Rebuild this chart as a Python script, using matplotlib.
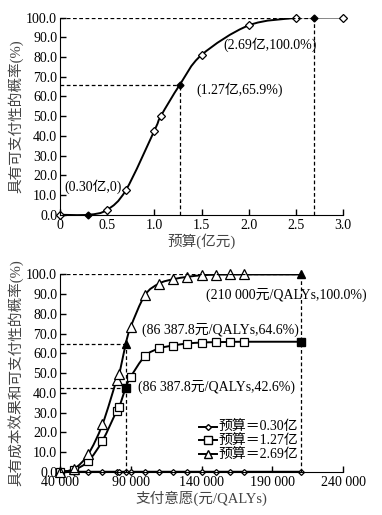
import numpy as np
import matplotlib
matplotlib.use('Agg')
import matplotlib.pyplot as plt
from matplotlib.path import Path
from matplotlib.patches import PathPatch
from matplotlib.lines import Line2D

plt.rcParams['font.family'] = ['Liberation Serif', 'Noto Sans CJK SC', 'DejaVu Sans']
plt.rcParams['font.size'] = 10

# top panel: probability of affordability vs budget (100 million yuan)
budget = [0, 0.5, 0.7, 1.0, 1.07, 1.5, 2.0, 2.5, 3.0]
prob = [0, 2.5, 12.6, 42.6, 50.1, 81.0, 96.0, 99.8, 100.0]
key_budget = [0.30, 1.27, 2.69]
key_prob = [0, 65.9, 100.0]
budget_ticks = [0, 0.5, 1.0, 1.5, 2.0, 2.5, 3.0]
budget_ticklabels = ['0', '0.5', '1.0', '1.5', '2.0', '2.5', '3.0']

# bottom panel: probability vs willingness to pay
wtp = [40000, 50000, 60000, 70000, 80000, 82000, 90000, 100000, 110000,
       120000, 130000, 140000, 150000, 160000, 170000]
p030 = [0, 0, 0, 0, 0, 0, 0, 0, 0, 0, 0, 0, 0, 0, 0]
p127 = [0, 1.0, 5.4, 15.7, 30.7, 32.9, 48.1, 58.6, 62.5, 64.0, 65.0, 65.5, 65.7, 65.8, 65.9]
p269 = [0, 1.5, 9.0, 24.0, 46.5, 49.8, 73.5, 89.5, 95.4, 97.6, 98.8, 99.6, 99.9, 100.0, 100.0]
key_wtp = [86387.8, 210000]
key_p030 = [0, 0]
key_p127 = [42.6, 65.9]
key_p269 = [64.6, 100.0]
wtp_ticks = [40000, 90000, 140000, 190000, 240000]
wtp_ticklabels = ['40 000', '90 000', '140 000', '190 000', '240 000']
yticks = [0, 10, 20, 30, 40, 50, 60, 70, 80, 90, 100]


def smooth_curve(ax, x, y, **kw):
    # Catmull-Rom style bezier through the points (like a smoothed spreadsheet line)
    pts = np.column_stack([x, y]).astype(float)
    n = len(pts)
    verts = [pts[0]]
    codes = [Path.MOVETO]
    for i in range(n - 1):
        p0 = pts[i - 1] if i > 0 else pts[i]
        p1, p2 = pts[i], pts[i + 1]
        p3 = pts[i + 2] if i + 2 < n else pts[i + 1]
        c1 = p1 + (p2 - p0) / 6.0
        c2 = p2 - (p3 - p1) / 6.0
        verts += [c1, c2, p2]
        codes += [Path.CURVE4] * 3
    ax.add_patch(PathPatch(Path(verts, codes), facecolor='none', **kw))


def merged(x, y, kx, ky):
    order = np.argsort(list(x) + list(kx))
    allx = np.array(list(x) + list(kx))[order]
    ally = np.array(list(y) + list(ky))[order]
    return allx, ally


def style_axes(ax):
    ax.spines['top'].set_visible(False)
    ax.spines['right'].set_visible(False)
    ax.tick_params(direction='in', length=4, width=1, pad=2, labelsize=10)
    ax.tick_params(axis='x', pad=3)
    ax.set_ylim(0, 100)
    ax.set_yticks(yticks)
    ax.set_yticklabels(['%.1f' % v for v in yticks])


fig = plt.figure(figsize=(3.82, 5.15), dpi=100)
dash = dict(color='black', lw=0.9, ls=(0, (3, 2)))

# ---- top panel
ax1 = fig.add_axes([0.157, 0.583, 0.741, 0.383])
style_axes(ax1)
ax1.set_xlim(0, 3.0)
ax1.set_xticks(budget_ticks)
ax1.set_xticklabels(budget_ticklabels)
bx, by = merged(budget, prob, key_budget, key_prob)
smooth_curve(ax1, bx, by, edgecolor='black', lw=1.4)
ax1.plot(budget, prob, ls='none', marker='D', ms=4, mfc='white', mec='black', mew=0.9, clip_on=False)
ax1.plot(key_budget, key_prob, ls='none', marker='D', ms=3.5, mfc='black', mec='black', clip_on=False)
ax1.plot([0, key_budget[2]], [key_prob[2]] * 2, **dash)
ax1.plot([key_budget[2]] * 2, [0, key_prob[2]], **dash)
ax1.plot([0, key_budget[1]], [key_prob[1]] * 2, **dash)
ax1.plot([key_budget[1]] * 2, [0, key_prob[1]], **dash)
ax1.text(0.05, 14.2, '(0.30亿,0)', va='center', ha='left')
ax1.text(1.45, 63.2, '(1.27亿,65.9%)', va='center', ha='left')
ax1.text(1.73, 86.0, '(2.69亿,100.0%)', va='center', ha='left')
ax1.set_xlabel('预算(亿元)', color='#444444', fontsize=10.5, labelpad=1)
ax1.set_ylabel('具有可支付性的概率(%)', color='#444444', fontsize=10.5, labelpad=2)

# ---- bottom panel
ax2 = fig.add_axes([0.157, 0.084, 0.741, 0.383])
style_axes(ax2)
ax2.set_xlim(40000, 240000)
ax2.set_xticks(wtp_ticks)
ax2.set_xticklabels(wtp_ticklabels)

for yy, ky, mk, ms in [(p030, key_p030, 'D', 3), (p127, key_p127, 's', 6), (p269, key_p269, '^', 6.5)]:
    wx, wy = merged(wtp, yy, key_wtp, ky)
    smooth_curve(ax2, wx, wy, edgecolor='black', lw=1.4)
    if mk == 'D':
        ax2.plot(wx, wy, ls='none', marker=mk, ms=ms, mfc='white', mec='black', mew=0.9, clip_on=False)
    else:
        ax2.plot(wtp, yy, ls='none', marker=mk, ms=ms, mfc='white', mec='black', mew=0.9, clip_on=False)
        ax2.plot(key_wtp, ky, ls='none', marker=mk, ms=ms - 0.5, mfc='black', mec='black', clip_on=False)

ax2.plot([40000, key_wtp[1]], [100, 100], **dash)
ax2.plot([key_wtp[1]] * 2, [0, 100], **dash)
ax2.plot([40000, key_wtp[0]], [key_p269[0]] * 2, **dash)
ax2.plot([40000, key_wtp[0]], [key_p127[0]] * 2, **dash)
ax2.plot([key_wtp[0]] * 2, [0, key_p269[0]], **dash)
ax2.text(143100, 89.5, '(210 000元/QALYs,100.0%)', va='center', ha='left', clip_on=False)
ax2.text(97700, 72.1, '(86 387.8元/QALYs,64.6%)', va='center', ha='left')
ax2.text(95300, 42.8, '(86 387.8元/QALYs,42.6%)', va='center', ha='left')
ax2.set_xlabel('支付意愿(元/QALYs)', color='#444444', fontsize=10.5, labelpad=1)
ax2.set_ylabel('具有成本效果和可支付性的概率(%)', color='#444444', fontsize=10.5, labelpad=2)

handles = [
    Line2D([], [], color='black', lw=1.4, marker='D', ms=3, mfc='white', mec='black'),
    Line2D([], [], color='black', lw=1.4, marker='s', ms=6, mfc='white', mec='black'),
    Line2D([], [], color='black', lw=1.4, marker='^', ms=6, mfc='white', mec='black'),
]
ax2.legend(handles, ['预算＝0.30亿', '预算＝1.27亿', '预算＝2.69亿'],
           loc='upper left', bbox_to_anchor=(0.49, 0.255), frameon=False,
           handlelength=1.3, handletextpad=0.1, labelspacing=0.05,
           borderpad=0, borderaxespad=0, fontsize=10)

fig.savefig('out.png', dpi=100)
